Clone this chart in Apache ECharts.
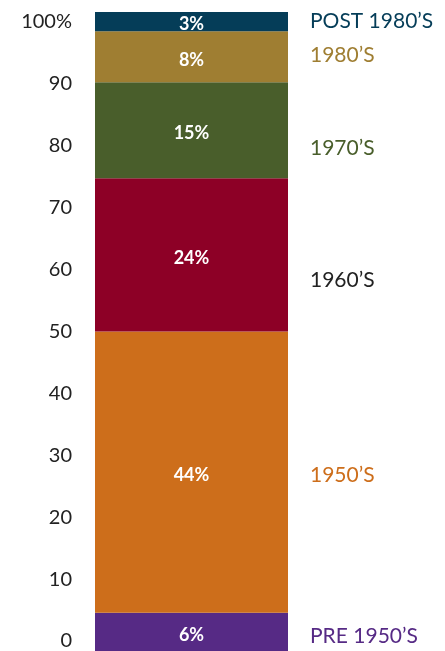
<!DOCTYPE html>
<html>
<head>
<meta charset="utf-8">
<script src="https://cdn.jsdelivr.net/npm/echarts@6/dist/echarts.min.js"></script>
<style>
  html, body { margin: 0; padding: 0; background: #ffffff; }
  #chart { width: 445px; height: 651px; }
</style>
</head>
<body>
<div id="chart"></div>
<script>
// Era shares, stacked bottom to top
const eras = ['PRE 1950\u2019S', '1950\u2019S', '1960\u2019S', '1970\u2019S', '1980\u2019S', 'POST 1980\u2019S'];
const shares = [6, 44, 24, 15, 8, 3];
const tickValues = [0, 10, 20, 30, 40, 50, 60, 70, 80, 90, 100];

const fillColors = ['#562a85', '#cd6e1b', '#8d0026', '#495e2b', '#9f7e32', '#053d58'];
const nameColors = ['#562a85', '#cd6e1b', '#222222', '#495e2b', '#9f7e32', '#053d58'];
// vertical nudge of the era names beside the bar
const nameOffsets = [4, 3, 25, 18, -1, 0];

const FONT = 'Lato';

const chart = echarts.init(document.getElementById('chart'), null, { renderer: 'canvas' });

const fillSeries = eras.map((era, i) => ({
  name: era,
  type: 'bar',
  stack: 'fill',
  xAxisIndex: 0,
  yAxisIndex: 0,
  barWidth: '100%',
  barGap: '-100%',
  data: [shares[i]],
  itemStyle: { color: fillColors[i] },
  label: {
    show: true,
    position: 'inside',
    formatter: '{c}%',
    color: '#ffffff',
    fontFamily: FONT,
    fontSize: 18,
    fontWeight: 'bold',
    offset: [0, 3]
  },
  silent: true
}));

const nameSeries = eras.map((era, i) => ({
  name: era + ' label',
  type: 'bar',
  stack: 'names',
  xAxisIndex: 0,
  yAxisIndex: 0,
  barWidth: '100%',
  barGap: '-100%',
  data: [shares[i]],
  itemStyle: { color: 'rgba(0,0,0,0)' },
  label: {
    show: true,
    position: 'right',
    distance: 22,
    formatter: era,
    color: nameColors[i],
    fontFamily: FONT,
    fontSize: 21,
    offset: [0, nameOffsets[i]]
  },
  silent: true
}));

chart.setOption({
  animation: false,
  backgroundColor: '#ffffff',
  grid: [
    { left: 95, width: 193, top: 12, height: 640 },
    { left: 95, width: 193, top: 22, height: 620 }
  ],
  xAxis: [
    { type: 'category', gridIndex: 0, data: ['share'], show: false },
    { type: 'category', gridIndex: 1, data: ['share'], show: false }
  ],
  yAxis: [
    { type: 'value', gridIndex: 0, min: 0, max: 100, show: false },
    {
      type: 'value',
      gridIndex: 1,
      min: tickValues[0],
      max: tickValues[tickValues.length - 1],
      interval: 10,
      axisLine: { show: false },
      axisTick: { show: false },
      splitLine: { show: false },
      axisLabel: {
        margin: 23,
        color: '#222222',
        fontFamily: FONT,
        fontSize: 20,
        formatter: v => (v === 100 ? v + '%' : String(v))
      }
    }
  ],
  series: fillSeries.concat(nameSeries)
});
</script>
</body>
</html>
